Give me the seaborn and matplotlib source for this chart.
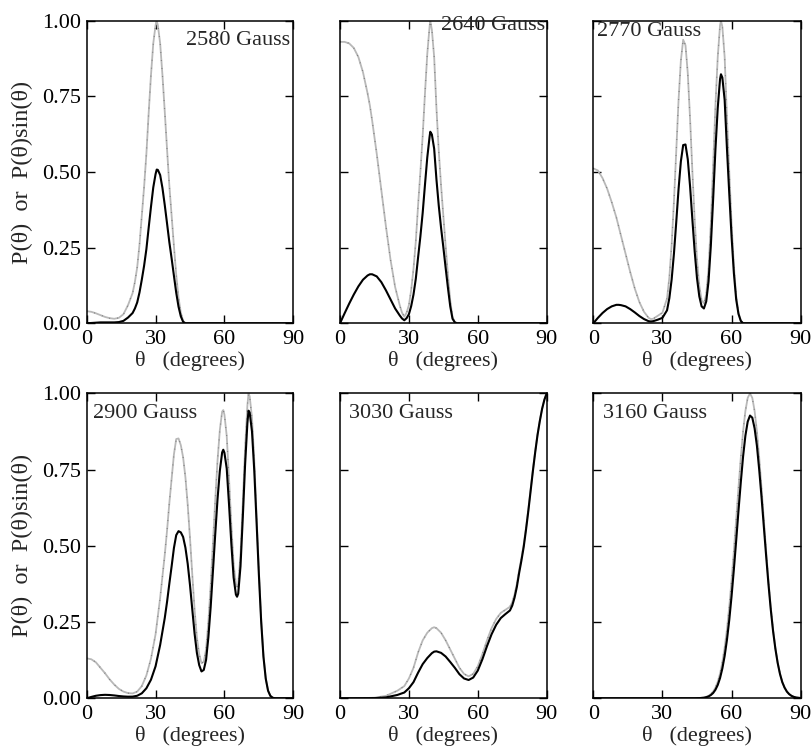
import numpy as np
import pandas as pd
import matplotlib
matplotlib.use("Agg")
import matplotlib.pyplot as plt
import seaborn as sns

# Field strengths of the six panels
fields = ["2580 Gauss", "2640 Gauss", "2770 Gauss", "2900 Gauss", "3030 Gauss", "3160 Gauss"]

# Angular distribution P(theta) (normalised to its maximum) and P(theta)sin(theta)
theta_2580 = [0, 2, 4, 6, 8, 10, 12, 14, 16, 18, 20, 21, 22, 23, 24, 25, 26, 27, 28, 29,
              30, 30.5, 31, 32, 33, 34, 35, 36, 37, 38, 39, 40, 41, 42, 43, 50, 60, 70, 80, 90]
p_2580 = [.040, .038, .033, .027, .021, .017, .015, .018, .03, .06, .10, .137, .185, .26, .355, .45, .56, .695, .82, .925,
          .985, 1.0, .985, .925, .82, .70, .575, .455, .355, .255, .16, .085, .035, .008, 0, 0, 0, 0, 0, 0]
psin_2580 = [0, .001, .002, .003, .003, .003, .003, .004, .008, .019, .034, .049, .069, .102, .144, .190, .245, .316, .385, .449,
             .493, .508, .507, .490, .447, .391, .330, .268, .214, .157, .101, .055, .023, .005, 0, 0, 0, 0, 0, 0]

theta_2640 = [0, 2, 4, 6, 8, 10, 12, 13, 14, 16, 18, 20, 22, 24, 26, 27, 28, 29, 30, 31,
              32, 33, 34, 35, 36, 37, 38, 39, 39.3, 40, 41, 42, 43, 44, 45, 46, 47, 48, 49, 50,
              51, 55, 60, 70, 80, 90]
p_2640 = [.93, .93, .925, .91, .88, .83, .76, .72, .67, .56, .44, .32, .21, .12, .06, .035, .022, .035, .06, .11,
          .18, .27, .39, .50, .62, .76, .89, .98, 1.0, .97, .88, .71, .57, .455, .355, .255, .16, .075, .02, .004,
          0, 0, 0, 0, 0, 0]
psin_2640 = [0, .033, .065, .095, .122, .144, .158, .162, .162, .155, .136, .109, .079, .049, .026, .016, .010, .017, .030, .057,
             .095, .147, .218, .287, .365, .458, .548, .616, .633, .624, .577, .475, .389, .316, .251, .183, .117, .056, .015, .003,
             0, 0, 0, 0, 0, 0]

theta_2770 = [0, 2, 4, 6, 8, 10, 11, 12, 14, 16, 18, 20, 22, 24, 25, 26, 28, 30, 32, 33,
              34, 35, 36, 37, 38, 39, 40, 41, 42, 43, 44, 45, 46, 47, 48, 49, 50, 51, 52, 53,
              54, 55, 55.4, 56, 57, 58, 59, 60, 61, 62, 63, 64, 65, 70, 80, 90]
p_2770 = [.512, .505, .48, .445, .40, .35, .32, .29, .23, .17, .115, .07, .038, .018, .014, .015, .025, .035, .082, .152,
          .26, .403, .57, .738, .868, .937, .919, .826, .675, .501, .341, .211, .124, .076, .066, .095, .18, .33, .52, .72,
          .88, .985, 1.0, .98, .88, .68, .50, .33, .19, .09, .035, .009, 0, 0, 0, 0]
psin_2770 = [0, .018, .034, .047, .056, .061, .061, .060, .056, .047, .036, .024, .014, .007, .006, .007, .012, .018, .043, .083,
             .145, .231, .335, .444, .535, .589, .591, .542, .452, .342, .237, .149, .089, .056, .049, .072, .138, .256, .410, .575,
             .712, .807, .823, .812, .738, .577, .429, .286, .166, .079, .031, .008, 0, 0, 0, 0]

theta_2900 = [0, 2, 4, 6, 8, 10, 12, 14, 16, 18, 20, 22, 24, 26, 28, 30, 32, 34, 35, 36,
              37, 38, 39, 40, 41, 42, 43, 44, 45, 46, 47, 48, 49, 50, 51, 52, 53, 54, 55, 56,
              57, 58, 59, 59.5, 60, 61, 62, 63, 64, 65, 65.5, 66, 67, 68, 69, 70, 70.5, 71, 72, 73,
              74, 75, 76, 77, 78, 79, 80, 81, 82, 86, 90]
p_2900 = [.131, .128, .118, .10, .082, .062, .045, .031, .022, .017, .016, .022, .04, .075, .13, .21, .33, .47, .55, .64,
          .72, .80, .85, .852, .83, .79, .725, .635, .525, .405, .29, .20, .145, .115, .12, .16, .25, .37, .51, .65,
          .78, .88, .94, .945, .93, .86, .72, .57, .44, .375, .366, .375, .47, .64, .82, .96, 1.0, .99, .92, .78,
          .60, .42, .26, .14, .065, .025, .008, .002, 0, 0, 0]
psin_2900 = [0, .0045, .0083, .0105, .0114, .0108, .0094, .0075, .0061, .0053, .0055, .0083, .0163, .0329, .061, .105, .175, .263, .316, .376,
             .433, .493, .535, .548, .544, .529, .494, .441, .371, .291, .212, .149, .109, .088, .093, .126, .200, .299, .418, .539,
             .654, .746, .806, .815, .805, .753, .636, .508, .396, .340, .333, .343, .433, .593, .766, .902, .943, .937, .875, .746,
             .577, .406, .252, .136, .064, .025, .008, .002, 0, 0, 0]

theta_3030 = [0, 5, 10, 15, 20, 25, 28, 30, 32, 34, 36, 38, 40, 41, 42, 44, 46, 48, 50, 52,
              54, 56, 58, 60, 62, 64, 66, 68, 70, 72, 74, 75, 76, 77, 78, 79, 80, 81, 82, 83,
              84, 85, 86, 87, 88, 89, 90]
p_3030 = [0, 0, .0005, .002, .008, .025, .04, .065, .10, .15, .19, .215, .23, .233, .23, .215, .19, .16, .13, .10,
          .08, .072, .08, .105, .145, .19, .23, .26, .28, .29, .30, .315, .34, .375, .42, .46, .505, .56, .62, .685,
          .75, .81, .865, .91, .95, .98, 1.0]
psin_3030 = [0, 0, .0001, .0005, .003, .011, .019, .033, .053, .084, .112, .132, .148, .153, .154, .149, .137, .119, .100, .079,
             .065, .060, .068, .091, .128, .171, .210, .241, .263, .276, .288, .304, .330, .365, .411, .452, .497, .553, .614, .680,
             .746, .807, .863, .909, .949, .979, 1.0]

theta_3160 = [0, 20, 40, 44, 46, 48, 49, 50, 51, 52, 53, 54, 55, 56, 57, 58, 59, 60, 61, 62,
              63, 64, 65, 66, 67, 68, 69, 70, 71, 72, 73, 74, 75, 76, 77, 78, 79, 80, 81, 82,
              83, 84, 85, 86, 87, 88, 90]
p_3160 = [0, 0, 0, 0, .0008, .0026, .0047, .0081, .0137, .022, .035, .054, .081, .118, .166, .226, .300, .387, .483, .586,
          .690, .788, .875, .942, .985, 1.0, .985, .942, .875, .788, .690, .586, .483, .387, .300, .226, .166, .118, .081, .054,
          .035, .022, .0137, .0081, .0047, .0026, .0008]
psin_3160 = [0, 0, 0, 0, .0006, .0019, .0036, .0062, .0106, .0173, .028, .0437, .0663, .0978, .139, .192, .257, .335, .423, .517,
             .615, .708, .793, .861, .907, .927, .920, .885, .828, .749, .660, .563, .467, .375, .292, .221, .163, .116, .080, .053,
             .035, .022, .0136, .0081, .0047, .0026, .0008]

x_ticks = [0, 30, 60, 90]
y_ticks = [0.0, 0.25, 0.5, 0.75, 1.0]

series = [
    (theta_2580, p_2580, psin_2580),
    (theta_2640, p_2640, psin_2640),
    (theta_2770, p_2770, psin_2770),
    (theta_2900, p_2900, psin_2900),
    (theta_3030, p_3030, psin_3030),
    (theta_3160, p_3160, psin_3160),
]

sns.set_theme(style="ticks")
plt.rcParams["font.family"] = ["Liberation Serif", "DejaVu Serif"]
plt.rcParams["axes.linewidth"] = 1.1

W, H = 812, 753
fig = plt.figure(figsize=(W / 100, H / 100), dpi=100)

# panel boxes in pixels: left, top, right, bottom
boxes = [
    (86.7, 20.7, 293.3, 323.3), (340.0, 20.7, 546.7, 323.3), (593.3, 20.7, 800.7, 323.3),
    (86.7, 393.3, 293.3, 698.3), (340.0, 393.3, 546.7, 698.3), (593.3, 393.3, 800.7, 698.3),
]
# field label placement (axes fraction) and alignment
label_pos = [(0.984, 0.936, "right"), (0.992, 0.983, "right"), (0.018, 0.963, "left"),
             (0.030, 0.935, "left"), (0.044, 0.935, "left"), (0.047, 0.935, "left")]

for i, ((th, p, ps), name, (l, t, r, b), (tx, ty, ha)) in enumerate(zip(series, fields, boxes, label_pos)):
    ax = fig.add_axes([l / W, 1 - b / H, (r - l) / W, (b - t) / H])
    df = pd.DataFrame({"theta": th, "P": p, "Psin": ps})
    sns.lineplot(data=df, x="theta", y="P", ax=ax, color="#b8b8b8", lw=1.3,
                 estimator=None, sort=False)
    sns.lineplot(data=df, x="theta", y="P", ax=ax, color="#555555", lw=0.9,
                 linestyle=(0, (0.4, 6)), estimator=None, sort=False)
    sns.lineplot(data=df, x="theta", y="Psin", ax=ax, color="black", lw=1.5,
                 estimator=None, sort=False)
    ax.set_xlim(0, 90)
    ax.set_ylim(0, 1.0)
    ax.set_xticks(x_ticks)
    ax.set_yticks(y_ticks)
    ax.tick_params(direction="in", top=True, right=True, length=6, width=1.0,
                   labelsize=16, colors="black")
    ax.tick_params(axis="x", pad=5)
    ax.tick_params(axis="y", pad=4)
    ax.set_xticklabels([str(v) for v in x_ticks])
    for sp in ax.spines.values():
        sp.set_color("black")
        sp.set_linewidth(1.1)
    if i % 3 == 0:
        ax.set_yticklabels([f"{v:.2f}" for v in y_ticks])
        ax.set_ylabel("P(θ)  or  P(θ)sin(θ)", fontsize=17.5)
        ax.yaxis.set_label_coords(-0.258, 0.5)
    else:
        ax.set_yticklabels([])
        ax.set_ylabel("")
    ax.set_xlabel("θ   (degrees)", fontsize=16)
    ax.xaxis.set_label_coords(0.5, -0.092)
    ax.text(tx, ty, name, transform=ax.transAxes, ha=ha, va="center", fontsize=16)

fig.savefig("out.png", dpi=100)
